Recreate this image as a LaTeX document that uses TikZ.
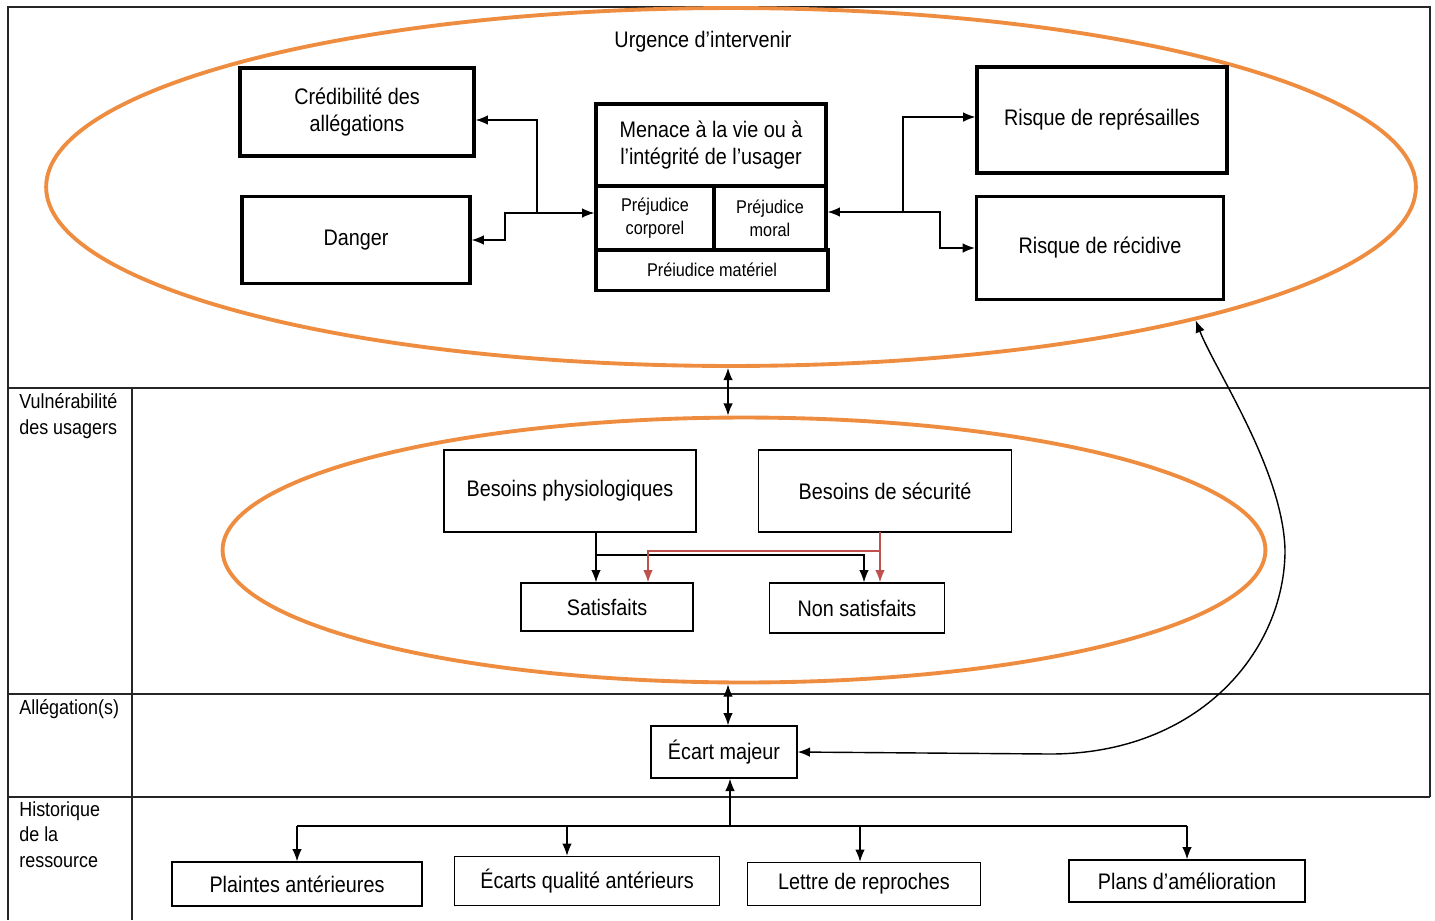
\documentclass[tikz,border=0pt]{standalone}
\usepackage{fontspec}
\setmainfont{Liberation Sans}[FakeStretch=0.88]
\usetikzlibrary{arrows.meta,shapes.geometric,calc}
\definecolor{ovalorange}{HTML}{EE8C40}
\definecolor{arrowred}{HTML}{C0504D}
\tikzset{
  heavybox/.style={draw,line width=1.9pt,align=center,font=\fontsize{12.8}{15.4}\selectfont},
  thinbox/.style={draw,line width=0.8pt,align=center,font=\fontsize{12.8}{15.4}\selectfont},
  prejbox/.style={heavybox,font=\fontsize{10.5}{13.2}\selectfont},
  oval/.style={draw=ovalorange,line width=2.2pt,ellipse,inner sep=0pt},
  lane/.style={line width=0.7pt,draw=black!85},
  lanelabel/.style={anchor=north west,align=left,inner sep=0pt,font=\fontsize{11.6}{14.6}\selectfont},
  link/.style={->,line width=0.8pt}
}
\begin{document}
\begin{tikzpicture}[x=0.02cm,y=-0.02cm,>={Latex[length=7pt,width=5.5pt]}]
\useasboundingbox (0,0) rectangle (1435,920);

% cadre et couloirs
\draw[lane] (8,920) -- (8,7) -- (1430,7) -- (1430,797);
\draw[lane] (8,388) -- (1430,388);
\draw[lane] (8,694) -- (1430,694);
\draw[lane] (8,797) -- (1430,797);
\draw[lane] (132,388) -- (132,920);

\node[lanelabel] (lvuln) at (19,393) {Vulnérabilité\\des usagers};
\node[lanelabel] (lalleg) at (19,699) {Allégation(s)};
\node[lanelabel] (lhist) at (19,801) {Historique\\de la\\ressource};

% ovales
\node[oval,minimum width=27.4cm,minimum height=7.16cm] (urgence) at (731,187) {};
\node[oval,minimum width=20.86cm,minimum height=5.3cm] (besoins) at (744,550) {};
\node[font=\fontsize{12.8}{15.4}\selectfont] (titre) at (703,42) {Urgence d’intervenir};

% urgence d'intervenir
\node[heavybox,minimum width=4.68cm,minimum height=1.76cm] (cred) at (357,112) {Crédibilité des\\allégations};
\node[heavybox,minimum width=4.56cm,minimum height=1.74cm] (danger) at (356,240) {Danger};
\node[heavybox,minimum width=4.6cm,minimum height=1.64cm] (menace) at (711,145) {Menace à la vie ou à\\l’intégrité de l’usager};
\node[prejbox,minimum width=2.36cm,minimum height=1.28cm] (corporel) at (655,218) {Préjudice\\corporel};
\node[prejbox,minimum width=2.24cm,minimum height=1.28cm] (moral) at (770,218) {Préjudice\\moral};
\node[prejbox,minimum width=4.64cm,minimum height=0.82cm] (materiel) at (712,270) {Préiudice matériel};
\node[heavybox,minimum width=5cm,minimum height=2.12cm] (repres) at (1102,120) {Risque de représailles};
\node[heavybox,minimum width=4.94cm,minimum height=2.06cm] (recid) at (1100,248) {Risque de récidive};

\coordinate (jl) at (537,213);
\draw[link] (jl) -- (jl -| corporel.west);
\draw[link] (jl) |- ($(cred.east)+(0,8)$);
\draw[link] (jl) -- ++(-32,0) |- (danger.east);
\coordinate (jr) at (903,212);
\draw[link] (jr) -- (jr -| moral.east);
\draw[link] (jr) |- ($(repres.west)+(0,-3)$);
\draw[link] (jr) -- ++(37,0) |- (recid.west);

% besoins
\node[thinbox,minimum width=5.04cm,minimum height=1.64cm] (physio) at (570,491) {Besoins physiologiques};
\node[thinbox,minimum width=5.06cm,minimum height=1.64cm] (secu) at (885,491) {Besoins de sécurité};
\node[thinbox,minimum width=3.44cm,minimum height=0.96cm] (satis) at (607,607) {Satisfaits};
\node[thinbox,minimum width=3.5cm,minimum height=1cm] (nonsat) at (857,608) {Non satisfaits};

\coordinate (pb) at (596,532);
\coordinate (pk) at (596,555);
\draw[link] (pb) -- (pb |- satis.north);
\draw[link] (pk) -| ($(nonsat.north)+(7,0)$);
\coordinate (sb) at (880,532);
\coordinate (sk) at (880,551);
\draw[link,arrowred] (sb) -- (sb |- nonsat.north);
\draw[link,arrowred] (sk) -| ($(satis.north)+(41,0)$);

\draw[<->,line width=0.8pt] (urgence.south -| 728,0) -- (besoins.north -| 728,0);

% allegation(s)
\node[thinbox,minimum width=2.92cm,minimum height=1.04cm] (ecart) at (724,752) {Écart majeur};
\draw[<->,line width=0.8pt] (besoins.south -| 728,0) -- (ecart.north -| 728,0);
\draw[<->,line width=0.8pt] (ecart.east) -- (1050,754)
  .. controls (1200,754) and (1285,650) .. (1285,550)
  .. controls (1283,470) and (1215,370) .. (urgence.-16.5);

% historique de la ressource
\node[thinbox,minimum width=5cm,minimum height=0.88cm] (plaintes) at (297,884) {Plaintes antérieures};
\node[thinbox,minimum width=5.3cm,minimum height=0.98cm] (ecarts) at (587,881) {Écarts qualité antérieurs};
\node[thinbox,minimum width=4.66cm,minimum height=0.86cm] (lettre) at (864,884) {Lettre de reproches};
\node[thinbox,minimum width=4.72cm,minimum height=0.84cm] (plans) at (1187,881) {Plans d’amélioration};

\coordinate (hj) at (730,826);
\draw[link] (hj) -- (hj |- ecart.south);
\draw[line width=0.8pt] (plaintes.north |- hj) -- (plans.north |- hj);
\draw[link] (plaintes.north |- hj) -- (plaintes.north);
\draw[link] ($(ecarts.north |- hj)+(-20,0)$) -- ($(ecarts.north)+(-20,0)$);
\draw[link] ($(lettre.north |- hj)+(-4,0)$) -- ($(lettre.north)+(-4,0)$);
\draw[link] (plans.north |- hj) -- (plans.north);
\end{tikzpicture}
\end{document}
